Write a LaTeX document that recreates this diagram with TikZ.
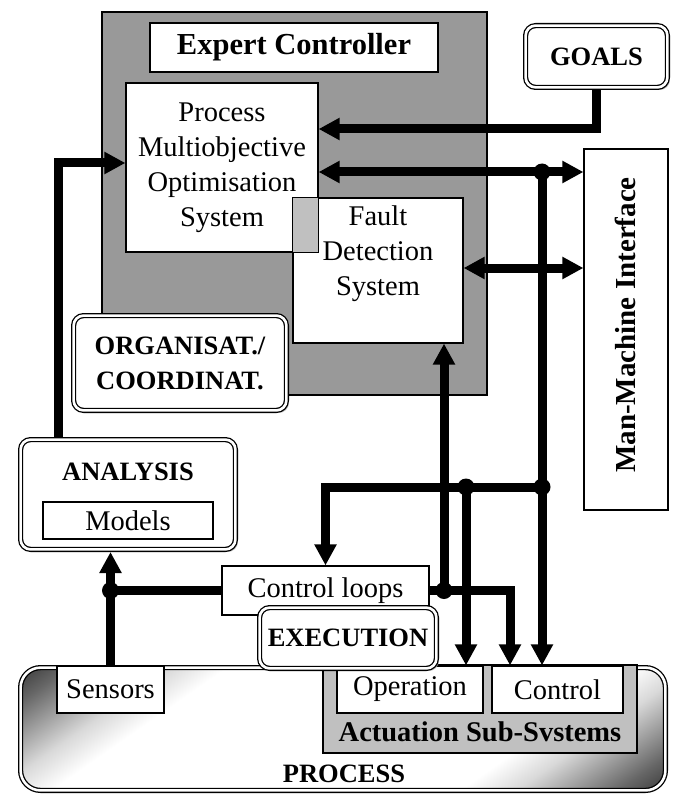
\documentclass[tikz,border=0pt]{standalone}
\usepackage{fontspec}
\setmainfont{Liberation Serif}
\usetikzlibrary{arrows.meta,shadows}
\definecolor{ecgray}{RGB}{153,153,153}
\definecolor{lightgray}{RGB}{192,192,192}
\pgfdeclareverticalshading{procshade}{100bp}{color(0bp)=(black!80); color(31.5bp)=(black!80); color(34bp)=(black!60); color(36bp)=(black!40); color(38.5bp)=(black!15); color(41bp)=(white); color(59bp)=(white); color(61.5bp)=(black!15); color(64bp)=(black!40); color(66bp)=(black!60); color(68.5bp)=(black!80); color(100bp)=(black!80)}
\tikzset{
  box/.style={draw, line width=1.2pt, fill=white, inner sep=0pt, align=center},
  dbox/.style={draw, fill=white, line width=1.3pt, double=white, double distance=2.6pt, rounded corners=10pt,
    inner sep=0pt, outer sep=2.6pt, align=center,
    drop shadow={shadow xshift=2.5pt, shadow yshift=-2.5pt, fill=black!35, opacity=0.8}},
  regtext/.style={font=\fontsize{28.5}{35}\selectfont},
  boldtext/.style={font=\bfseries\fontsize{26.5}{35}\selectfont},
  wire/.style={line width=9pt},
  conn/.style={line width=9pt, -{Triangle[length=21pt,width=21pt]}},
  dconn/.style={line width=9pt, {Triangle[length=21pt,width=21pt]}-{Triangle[length=21pt,width=21pt]}},
  jdot/.style={fill=black}
}
\begin{document}
\begin{tikzpicture}[x=1pt,y=-1pt]
\useasboundingbox (0,0) rectangle (677,794);

% Expert controller
\node[box, fill=ecgray, minimum width=385pt, minimum height=383pt] (ec) at (294.5,203.5) {};
\node[box, minimum width=288pt, minimum height=49pt, font=\bfseries\fontsize{30.5}{36}\selectfont] (ectitle) at (294,47.5) {Expert Controller};
\node[box, regtext, minimum width=192pt, minimum height=169pt] (pmo) at (222,167.5) {Process\\Multiobjective\\Optimisation\\System};
\node[box, regtext, minimum width=170pt, minimum height=145pt] (fds) at (378,270.5) {Fault\\Detection\\System\\[4pt]};
\fill[lightgray] (fds.north west) rectangle (pmo.south east);
\draw[line width=1.2pt] (fds.north west) rectangle (pmo.south east);

% Goals, MMI, organisation
\node[dbox, boldtext, minimum width=141.8pt, minimum height=61.8pt] (goals) at (596.5,56.5) {GOALS};
\node[box, minimum width=84pt, minimum height=361pt] (mmi) at (626,329.5) {};
\node[rotate=90, font=\bfseries\fontsize{29}{35}\selectfont] (mmitext) at (625,325) {Man-Machine Interface};
\node[dbox, boldtext, minimum width=212.8pt, minimum height=94.8pt] (org) at (180,363) {ORGANISAT./\\COORDINAT.};

% Process
\begin{scope}
\clip[rounded corners=20pt] (20.6,667.6) rectangle (665.4,790.4);
\shade[shading=procshade, shading angle=35] (18,404) rectangle (668,1054);
\end{scope}
\node[draw, line width=1.3pt, double=white, double distance=2.6pt, rounded corners=20pt, inner sep=0pt, outer sep=2.6pt,
  minimum width=644.8pt, minimum height=122.8pt] (process) at (343,729) {};
\node[boldtext] (processtext) at (344,774) {PROCESS};
\node[box, fill=lightgray, minimum width=314pt, minimum height=88pt] (act) at (480,709) {};
\node[font=\bfseries\fontsize{28.5}{35}\selectfont] (acttext) at (480,732) {Actuation Sub-Svstems};
\node[box, regtext, minimum width=146pt, minimum height=47pt] (op) at (410,689.5) {Operation};
\node[box, regtext, minimum width=131pt, minimum height=47pt] (ctl) at (557.5,689.5) {Control};
\node[box, regtext, minimum width=107pt, minimum height=47pt] (sensors) at (110.5,689.5) {Sensors};

% Analysis
\node[dbox, minimum width=214.8pt, minimum height=109.8pt] (analysis) at (128,494.5) {};
\node[boldtext] (analysistext) at (128,472) {ANALYSIS};
\node[box, regtext, minimum width=170pt, minimum height=37pt] (models) at (128,520.5) {Models};

% Execution
\node[box, regtext, minimum width=207pt, minimum height=49pt] (cl) at (325.5,590.5) {Control loops};
\node[dbox, boldtext, minimum width=176.8pt, minimum height=60.8pt] (exec) at (348,638) {EXECUTION};

% Junction coordinates
\coordinate (j1) at (542,172);
\coordinate (j2) at (542,487);
\coordinate (j3) at (466,487);
\coordinate (j4) at (444,590.5);
\coordinate (j5) at (sensors.north |- cl.west);

% Connectors
\draw[conn] (goals.south) |- (pmo.east |- 0,129);
\draw[dconn] (pmo.east |- 0,172) -- (mmi.west |- 0,172);
\draw[dconn] (fds.east |- 0,268) -- (mmi.west |- 0,268);
\draw[conn] (j1) -- (ctl.north -| j1);
\draw[conn] (j2) -| (cl.north);
\draw[conn] (j3) -- (op.north -| j3);
\draw[conn] (cl.east) -| (ctl.north -| 510,0);
\draw[conn] (j4) -- (fds.south -| j4);
\draw[wire] (cl.west) -- (j5);
\draw[conn] (sensors.north) -- (analysis.south -| sensors.north);
\draw[conn] (analysis.north -| 58,0) |- (pmo.west |- 0,163);

% Junction dots
\fill[jdot] (j1) circle (8.5pt);
\fill[jdot] (j2) circle (8.5pt);
\fill[jdot] (j3) circle (8.5pt);
\fill[jdot] (j4) circle (8.5pt);
\fill[jdot] (j5) circle (8.5pt);
\end{tikzpicture}
\end{document}
